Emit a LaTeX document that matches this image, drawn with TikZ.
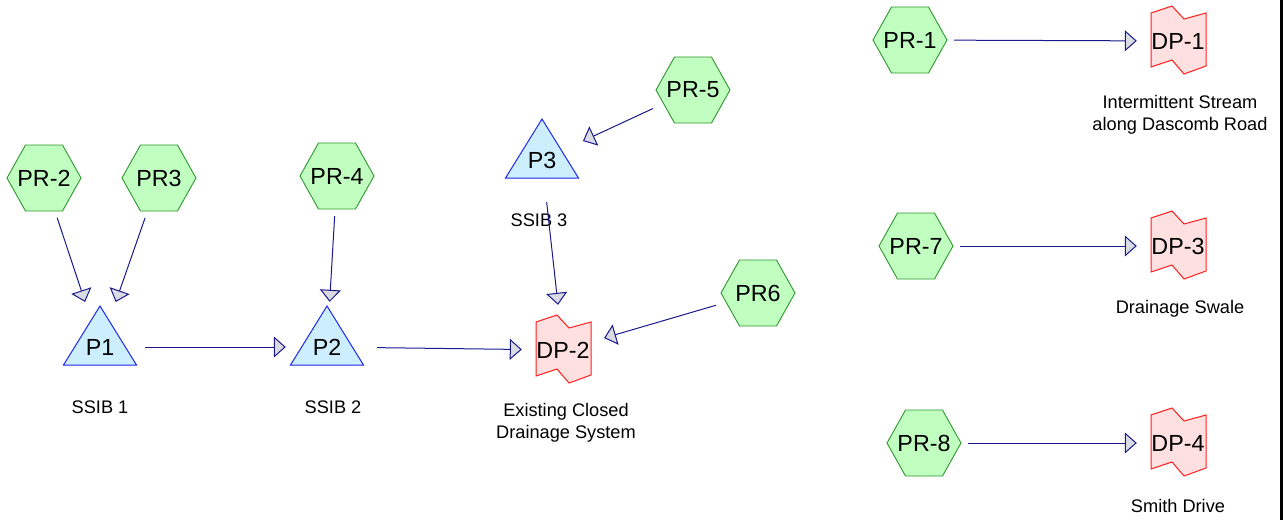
\documentclass[tikz,border=0pt]{standalone}
\usepackage{fontspec}
\setmainfont{Liberation Sans}
\usetikzlibrary{arrows.meta, positioning, backgrounds}
\definecolor{hexfill}{RGB}{192,255,192}
\definecolor{hexline}{RGB}{45,150,45}
\definecolor{trifill}{RGB}{204,238,255}
\definecolor{triline}{RGB}{30,40,235}
\definecolor{dpfill}{RGB}{255,224,224}
\definecolor{dpline}{RGB}{255,30,30}
\definecolor{flowline}{RGB}{25,25,140}
\definecolor{tipfill}{RGB}{218,218,226}
\newcommand{\shapefont}{\fontsize{23.3}{27}\selectfont}
\newcommand{\labelfont}{\fontsize{18.2}{22}\selectfont}
\tikzstyle{reach} = [rectangle, minimum width=74pt, minimum height=66pt, inner sep=0pt, font=\shapefont]
\tikzstyle{pond} = [rectangle, minimum width=76pt, minimum height=84pt, inner sep=0pt, font=\shapefont]
\tikzstyle{dpoint} = [rectangle, minimum width=76pt, minimum height=84pt, inner sep=0pt, font=\shapefont]
\tikzstyle{reachshape} = [draw=hexline, fill=hexfill, line width=0.9pt]
\tikzstyle{pondshape} = [draw=triline, fill=trifill, line width=1pt]
\tikzstyle{dpshape} = [draw=dpline, fill=dpfill, line width=1pt]
\tikzstyle{lbl} = [align=center, inner sep=0pt, font=\labelfont]
\tikzstyle{flow} = [flowline, line width=1pt, -{Triangle[length=12pt, width=21pt, fill=tipfill]}, shorten <=7pt, shorten >=3pt]

\begin{document}
\begin{tikzpicture}[x=1pt, y=-1pt]
    \useasboundingbox (0,0) rectangle (1283,520);

    % ponds
    \node (p1) [pond] at (100,347) {P1};
    \node (p2) [pond] at (327,347) {P2};
    \node (p3) [pond] at (542,160) {P3};
    \node (lbl1) [lbl, below=54pt of p1.center] {SSIB 1};
    \node (lbl2) [lbl, below=54pt of p2.center, xshift=6pt] {SSIB 2};
    \node (lbl3) [lbl, below=54pt of p3.center, xshift=-3pt] {SSIB 3};

    % design points
    \node (dp2) [dpoint] at (563,350) {DP-2};
    \node (dp1) [dpoint] at (1178,41) {DP-1};
    \node (dp3) [dpoint] at (1178,246) {DP-3};
    \node (dp4) [dpoint] at (1178,443) {DP-4};
    \node (lbldp2) [lbl, below=53pt of dp2.center, xshift=3pt] {Existing Closed\\Drainage System};
    \node (lbldp1) [lbl, below=54pt of dp1.center, xshift=2pt] {Intermittent Stream\\along Dascomb Road};
    \node (lbldp3) [lbl, below=54pt of dp3.center, xshift=2pt] {Drainage Swale};
    \node (lbldp4) [lbl, below=56pt of dp4.center] {Smith Drive};

    % subcatchments
    \node (pr2) [reach] at (44,178) {PR-2};
    \node (pr3) [reach] at (159,178) {PR3};
    \node (pr4) [reach] at (337,176) {PR-4};
    \node (pr5) [reach] at (693,90) {PR-5};
    \node (pr6) [reach] at (758,293) {PR6};
    \node (pr1) [reach] at (910,40) {PR-1};
    \node (pr7) [reach] at (916,246) {PR-7};
    \node (pr8) [reach] at (924,443) {PR-8};

    \begin{pgfonlayer}{background}
        \foreach \n in {pr1,pr2,pr3,pr4,pr5,pr6,pr7,pr8}
            \draw [reachshape, shift={(\n.center)}] (-37,0) -- (-18.5,-33) -- (18.5,-33) -- (37,0)
                -- (18.5,33) -- (-18.5,33) -- cycle;
        \foreach \n in {p1,p2,p3}
            \draw [pondshape, shift={(\n.center)}] (0,-41) -- (36.5,18) -- (-36.5,18) -- cycle;
        \foreach \n in {dp1,dp2,dp3,dp4}
            \draw [dpshape, shift={(\n.center)}] (-27,-28) -- (-6,-35) -- (6,-22) -- (28,-28)
                -- (28,25) -- (6,33) -- (-6,19) -- (-27,26) -- cycle;
    \end{pgfonlayer}

    \draw [flow] (pr2) -- (p1);
    \draw [flow] (pr3) -- (p1);
    \draw [flow] (pr4) -- (p2);
    \draw [flow] (p1) -- (p2);
    \draw [flow, shorten <=12pt] (p2) -- (dp2);
    \draw [flow, shorten <=3pt] (pr5) -- (p3);
    \draw [flow, shorten <=0pt] (p3) -- (dp2);
    \draw [flow, shorten <=5pt] (pr6) -- (dp2);
    \draw [flow] (pr1) -- (dp1);
    \draw [flow] (pr7) -- (dp3);
    \draw [flow] (pr8) -- (dp4);

    \draw [line width=3pt] (1281.5,0) -- (1281.5,520);

\end{tikzpicture}
\end{document}
